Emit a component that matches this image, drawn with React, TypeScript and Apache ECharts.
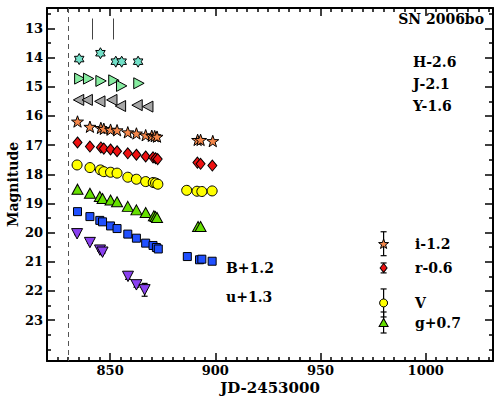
import React, { useEffect, useRef } from "react";
import * as echarts from "echarts";

// ---- data (JD-2453000, apparent magnitude incl. offsets) ----
const H_JD = [835.3, 845.4, 852.7, 855.5, 863.3];
const H_MAG = [14.05, 13.85, 14.14, 14.14, 14.14];

const J_JD = [835.6, 839.8, 845.7, 851.8, 855.5, 863.7];
const J_MAG = [14.72, 14.72, 14.8, 14.78, 14.97, 14.88];

const Y_JD = [835.0, 839.1, 845.1, 850.8, 854.9, 862.8, 867.9];
const Y_MAG = [15.45, 15.45, 15.5, 15.45, 15.66, 15.63, 15.68];

const I_JD = [834.5, 840.4, 845.6, 847.0, 850.2, 853.3, 858.4, 862.5, 866.9, 869.8, 871.2, 872.3, 891.6, 893.0, 898.8];
const I_MAG = [16.19, 16.37, 16.41, 16.44, 16.47, 16.49, 16.56, 16.6, 16.66, 16.68, 16.69, 16.71, 16.82, 16.82, 16.86];

const R_JD = [834.5, 840.4, 845.6, 847.0, 850.2, 853.3, 858.4, 862.5, 866.9, 870.4, 871.6, 872.6, 891.5, 893.0, 898.6];
const R_MAG = [16.91, 17.05, 17.08, 17.12, 17.15, 17.21, 17.28, 17.33, 17.39, 17.42, 17.45, 17.48, 17.6, 17.64, 17.7];

const V_JD = [834.3, 840.4, 845.4, 847.0, 850.2, 853.3, 858.4, 862.5, 866.9, 870.5, 871.6, 872.7, 886.4, 891.3, 893.6, 898.5];
const V_MAG = [17.68, 17.77, 17.85, 17.91, 17.93, 17.96, 18.1, 18.17, 18.25, 18.28, 18.3, 18.34, 18.55, 18.58, 18.59, 18.57];

const G_JD = [834.5, 840.4, 845.1, 846.4, 850.2, 853.3, 858.4, 862.5, 866.9, 870.8, 871.6, 872.3, 891.8, 893.0];
const G_MAG = [18.51, 18.65, 18.76, 18.83, 18.88, 18.94, 19.1, 19.22, 19.31, 19.42, 19.45, 19.48, 19.79, 19.79];

const B_JD = [834.5, 840.4, 845.1, 846.4, 850.2, 853.3, 858.4, 862.5, 866.9, 870.4, 872.0, 872.9, 886.7, 892.5, 893.6, 898.5];
const B_MAG = [19.28, 19.45, 19.58, 19.63, 19.77, 19.86, 20.05, 20.19, 20.36, 20.44, 20.51, 20.56, 20.82, 20.93, 20.91, 20.98];

const U_JD = [834.3, 840.4, 845.2, 846.4, 858.5, 862.5, 866.4];
const U_MAG = [20.04, 20.34, 20.6, 20.67, 21.5, 21.79, 21.96];
const U_ERR = [0.03, 0.03, 0.03, 0.03, 0.1, 0.08, 0.22];

// representative error bars drawn beside the legend labels
const LEG_JD = 980;
const LEG_MAG = [20.38, 21.21, 22.41, 23.08];
const LEG_ERR = [0.41, 0.17, 0.48, 0.36];

const EXPLOSION_JD = 830;
const SPEC_JD = [841.5, 851.5];
const SPEC_MAG_RANGE = [12.66, 13.38];

const X_MAJOR = [850, 900, 950, 1000];
const X_MINOR = [825, 830, 835, 840, 845, 855, 860, 865, 870, 875, 880, 885, 890, 895, 905, 910, 915, 920, 925, 930, 935, 940, 945, 955, 960, 965, 970, 975, 980, 985, 990, 995, 1005, 1010, 1015, 1020, 1025, 1030];
const Y_MAJOR = [13, 14, 15, 16, 17, 18, 19, 20, 21, 22, 23];
const Y_MINOR = [12.5, 13.5, 14.5, 15.5, 16.5, 17.5, 18.5, 19.5, 20.5, 21.5, 22.5, 23.5, 24];

const FONT = "DejaVu Serif";

const HEX = "path://M0,-10 L2.89,-5 L8.66,-5 L5.77,0 L8.66,5 L2.89,5 L0,10 L-2.89,5 L-8.66,5 L-5.77,0 L-8.66,-5 L-2.89,-5 Z";
const STAR5 = "path://M0,-10 L2.35,-3.24 L9.51,-3.09 L3.8,1.24 L5.88,8.09 L0,4 L-5.88,8.09 L-3.8,1.24 L-9.51,-3.09 L-2.35,-3.24 Z";
const TRI_R = "path://M-8,-9 L9,0 L-8,9 Z";
const TRI_L = "path://M8,-9 L-9,0 L8,9 Z";
const TRI_D = "path://M-9,-8 L9,-8 L0,9 Z";

function scatter(name: string, jd: number[], mag: number[], symbol: string, size: any, color: string) {
  return {
    type: "scatter",
    name,
    data: jd.map((x, i) => [x, mag[i]]),
    symbol,
    symbolSize: size,
    symbolKeepAspect: true,
    itemStyle: { color, borderColor: "#000", borderWidth: 1, opacity: 1 },
    emphasis: { disabled: true },
    silent: true,
    z: 3,
  };
}

function errorBars(name: string, data: number[][]) {
  return {
    type: "custom",
    name,
    silent: true,
    z: 2,
    renderItem: (_p: any, api: any) => {
      const x = api.value(0);
      const y = api.value(1);
      const e = api.value(2);
      const a = api.coord([x, y - e]);
      const b = api.coord([x, y + e]);
      const hw = 3;
      const style = { stroke: "#000", lineWidth: 1.2 };
      return {
        type: "group",
        children: [
          { type: "line", shape: { x1: a[0], y1: a[1], x2: b[0], y2: b[1] }, style },
          { type: "line", shape: { x1: a[0] - hw, y1: a[1], x2: a[0] + hw, y2: a[1] }, style },
          { type: "line", shape: { x1: b[0] - hw, y1: b[1], x2: b[0] + hw, y2: b[1] }, style },
        ],
      };
    },
    data,
  };
}

const labelFont = { fontFamily: FONT, fontWeight: "bold", fontSize: 13, color: "#000" };

function xAxisDef(position: string, major: boolean, showLine: boolean, labels: boolean) {
  return {
    type: "value",
    position,
    min: 820,
    max: 1032,
    axisLine: { show: showLine, onZero: false, lineStyle: { color: "#000", width: 2 } },
    axisTick: {
      show: true,
      inside: true,
      length: major ? 8 : 4,
      customValues: major ? X_MAJOR : X_MINOR,
      lineStyle: { color: "#000", width: 1.5 },
    },
    axisLabel: labels
      ? { show: true, customValues: X_MAJOR, margin: 3, formatter: (v: number) => String(v), ...labelFont }
      : { show: false },
    splitLine: { show: false },
  };
}

function yAxisDef(position: string, major: boolean, showLine: boolean, labels: boolean) {
  return {
    type: "value",
    position,
    inverse: true,
    min: 12.3,
    max: 24.4,
    axisLine: { show: showLine, onZero: false, lineStyle: { color: "#000", width: 2 } },
    axisTick: {
      show: true,
      inside: true,
      length: major ? 8 : 4,
      customValues: major ? Y_MAJOR : Y_MINOR,
      lineStyle: { color: "#000", width: 1.5 },
    },
    axisLabel: labels
      ? { show: true, customValues: Y_MAJOR, margin: 4, formatter: (v: number) => String(v), ...labelFont }
      : { show: false },
    splitLine: { show: false },
  };
}

function txt(text: string, x: number, y: number, align = "left") {
  return {
    type: "text",
    x,
    y,
    silent: true,
    style: {
      text,
      fill: "#000",
      font: `bold 14px "${FONT}"`,
      textAlign: align,
      textVerticalAlign: "middle",
    },
  };
}

export default function App() {
  const ref = useRef<HTMLDivElement>(null);
  useEffect(() => {
    if (!ref.current) return;
    const chart = echarts.init(ref.current, null, { renderer: "svg" });
    const xa0: any = xAxisDef("bottom", true, true, true);
    xa0.name = "JD-2453000";
    xa0.nameLocation = "middle";
    xa0.nameGap = 19;
    xa0.nameMoveOverlap = false;
    xa0.nameTextStyle = { fontFamily: FONT, fontWeight: "bold", fontSize: 15, color: "#000" };
    const ya0: any = yAxisDef("left", true, true, true);
    ya0.name = "Magnitude";
    ya0.nameLocation = "middle";
    ya0.nameGap = 27;
    ya0.nameMoveOverlap = false;
    ya0.nameTextStyle = { fontFamily: FONT, fontWeight: "bold", fontSize: 14, color: "#000" };

    const hSeries: any = scatter("H-2.6", H_JD, H_MAG, HEX, 11, "#72e0c8");
    hSeries.markLine = {
      silent: true,
      symbol: "none",
      label: { show: false },
      animation: false,
      data: [
        { xAxis: EXPLOSION_JD, lineStyle: { color: "#555", type: [5, 4], width: 1 } },
        ...SPEC_JD.map((x) => [
          { coord: [x, SPEC_MAG_RANGE[0]], lineStyle: { color: "#444", type: "solid", width: 1 } },
          { coord: [x, SPEC_MAG_RANGE[1]] },
        ]),
      ],
    };

    chart.setOption({
      animation: false,
      backgroundColor: "#fff",
      grid: { left: 47, right: 5, top: 8, bottom: 37, containLabel: false, outerBoundsMode: "none" },
      xAxis: [
        xa0,
        xAxisDef("bottom", false, false, false),
        xAxisDef("top", true, true, false),
        xAxisDef("top", false, false, false),
      ],
      yAxis: [
        ya0,
        yAxisDef("left", false, false, false),
        yAxisDef("right", true, true, false),
        yAxisDef("right", false, false, false),
      ],
      series: [
        hSeries,
        scatter("J-2.1", J_JD, J_MAG, TRI_R, 11, "#86eca0"),
        scatter("Y-1.6", Y_JD, Y_MAG, TRI_L, 11, "#a6a6a6"),
        scatter("i-1.2", I_JD, I_MAG, STAR5, 12, "#f5874a"),
        scatter("r-0.6", R_JD, R_MAG, "diamond", [9, 11], "#ee1111"),
        scatter("V", V_JD, V_MAG, "circle", 10, "#ffff00"),
        scatter("g+0.7", G_JD, G_MAG, "triangle", [11, 10], "#66e000"),
        scatter("B+1.2", B_JD, B_MAG, "rect", 8, "#2050ff"),
        scatter("u+1.3", U_JD, U_MAG, TRI_D, 11, "#8a40f0"),
        errorBars("u err", U_JD.map((x, i) => [x, U_MAG[i], U_ERR[i]])),
        errorBars("legend err", LEG_MAG.map((m, i) => [LEG_JD, m, LEG_ERR[i]])),
        scatter("i key", [LEG_JD], [LEG_MAG[0]], STAR5, 10, "#f5874a"),
        scatter("r key", [LEG_JD], [LEG_MAG[1]], "diamond", [7, 9], "#ee1111"),
        scatter("V key", [LEG_JD], [LEG_MAG[2]], "circle", 8, "#ffff00"),
        scatter("g key", [LEG_JD], [LEG_MAG[3]], "triangle", [9, 8], "#66e000"),
      ],
      graphic: [
        txt("SN 2006bo", 484, 19, "right"),
        txt("H-2.6", 413, 62),
        txt("J-2.1", 413, 84),
        txt("Y-1.6", 413, 106),
        txt("B+1.2", 226, 268),
        txt("u+1.3", 226, 297),
        txt("i-1.2", 415, 244),
        txt("r-0.6", 415, 268),
        txt("V", 415, 303),
        txt("g+0.7", 415, 323),
      ],
    });
    return () => chart.dispose();
  }, []);
  return (
    <div
      ref={ref}
      style={{ position: "fixed", left: 0, top: 0, width: 498, height: 398, background: "#fff" }}
    />
  );
}
